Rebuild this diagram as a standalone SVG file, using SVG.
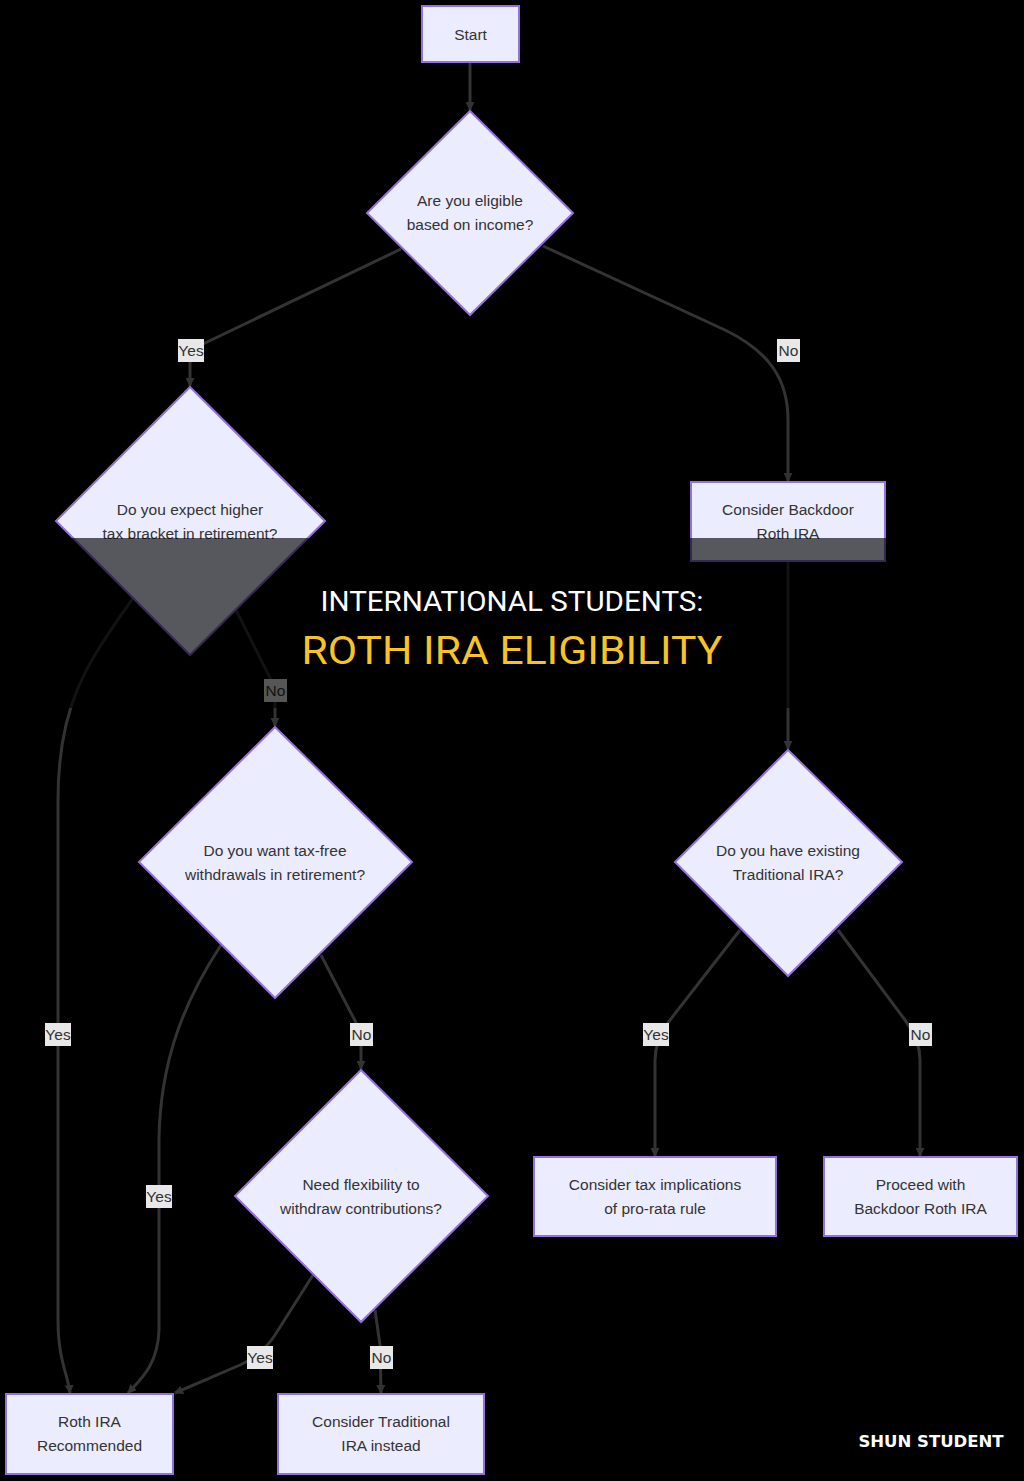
<svg xmlns="http://www.w3.org/2000/svg" width="1024" height="1481" viewBox="0 0 1024 1481">
<defs>
<marker id="arr" viewBox="0 0 10 10" refX="9" refY="5" markerWidth="9" markerHeight="9" markerUnits="userSpaceOnUse" orient="auto">
<path d="M0,0 L10,5 L0,10 z" fill="#333"/>
</marker>
<style>
.node rect,.node polygon{fill:#ECECFF;stroke:#9370DB;stroke-width:2}
.node text{font-family:"Liberation Sans",Arial,sans-serif;font-size:15.5px;fill:#333;text-anchor:middle;dominant-baseline:central}
.edge{fill:none;stroke:#333;stroke-width:3;marker-end:url(#arr)}
.lbl rect{fill:#e8e8e8}
.lbl text{font-family:"Liberation Sans",Arial,sans-serif;font-size:15.5px;fill:#333;text-anchor:middle;dominant-baseline:central}
</style>
</defs>
<rect width="1024" height="1481" fill="#000"/>
<g id="connectors">
<path class="edge" d="M470,62 L470,110"/>
<path class="edge" d="M401,249 L205,343 Q190,350 190,365 L190,386"/>
<path class="edge" d="M543,246 L725,330 C770,352 788,380 788,420 L788,481"/>
<path class="edge" d="M133,598 C90,660 58,700 58,800 L58,1320 C58,1360 68,1375 70,1393"/>
<path class="edge" d="M236,610 L265,668 Q275,685 275,700 L275,726"/>
<path class="edge" d="M788,561 L788,749"/>
<path class="edge" d="M221,945 C185,1000 160,1060 159,1140 L159,1330 C158,1365 140,1380 128,1393"/>
<path class="edge" d="M321,955 L352,1015 Q361,1030 361,1045 L361,1069"/>
<path class="edge" d="M740,930 L670,1020 Q655,1040 655,1060 L655,1156"/>
<path class="edge" d="M838,930 L905,1020 Q920,1040 920,1060 L920,1156"/>
<path class="edge" d="M313,1275 L275,1335 Q262,1355 240,1365 L175,1393"/>
<path class="edge" d="M375,1310 L380,1345 L381,1393"/>
</g>
<g id="edge-labels">
<g class="lbl"><rect x="178" y="339" width="26" height="23"/><text x="191" y="350.5">Yes</text></g>
<g class="lbl"><rect x="777" y="339" width="23" height="23"/><text x="788.5" y="350.5">No</text></g>
<g class="lbl"><rect x="264" y="679" width="23" height="23"/><text x="275.5" y="690.5">No</text></g>
<g class="lbl"><rect x="45" y="1023" width="26" height="23"/><text x="58" y="1034.5">Yes</text></g>
<g class="lbl"><rect x="350" y="1023" width="23" height="23"/><text x="361.5" y="1034.5">No</text></g>
<g class="lbl"><rect x="643" y="1023" width="26" height="23"/><text x="656" y="1034.5">Yes</text></g>
<g class="lbl"><rect x="909" y="1023" width="23" height="23"/><text x="920.5" y="1034.5">No</text></g>
<g class="lbl"><rect x="146" y="1185" width="26" height="23"/><text x="159" y="1196.5">Yes</text></g>
<g class="lbl"><rect x="247" y="1346" width="26" height="23"/><text x="260" y="1357.5">Yes</text></g>
<g class="lbl"><rect x="370" y="1346" width="23" height="23"/><text x="381.5" y="1357.5">No</text></g>
</g>
<g id="start" class="node"><rect x="422" y="6" width="97" height="56"/><text x="470.5" y="34">Start</text></g>
<g id="d1" class="node"><polygon points="470,111 573,213 470,315 367,213"/><text x="470" y="200">Are you eligible</text><text x="470" y="224">based on income?</text></g>
<g id="d2" class="node"><polygon points="190,387 325,521 190,655 56,521"/><text x="190" y="509">Do you expect higher</text><text x="190" y="533">tax bracket in retirement?</text></g>
<g id="backdoor" class="node"><rect x="691" y="482" width="194" height="79"/><text x="788" y="509">Consider Backdoor</text><text x="788" y="533">Roth IRA</text></g>
<g id="d3" class="node"><polygon points="275,727 412,862 275,998 139,862"/><text x="275" y="850">Do you want tax-free</text><text x="275" y="874">withdrawals in retirement?</text></g>
<g id="d4" class="node"><polygon points="788,750 902,862 788,976 675,862"/><text x="788" y="850">Do you have existing</text><text x="788" y="874">Traditional IRA?</text></g>
<g id="d5" class="node"><polygon points="361,1070 488,1196 361,1322 235,1196"/><text x="361" y="1184">Need flexibility to</text><text x="361" y="1208">withdraw contributions?</text></g>
<g id="prorata" class="node"><rect x="534" y="1157" width="242" height="79"/><text x="655" y="1184">Consider tax implications</text><text x="655" y="1208">of pro-rata rule</text></g>
<g id="proceed" class="node"><rect x="824" y="1157" width="193" height="79"/><text x="920.5" y="1184">Proceed with</text><text x="920.5" y="1208">Backdoor Roth IRA</text></g>
<g id="rothrec" class="node"><rect x="6" y="1394" width="167" height="80"/><text x="89.5" y="1421">Roth IRA</text><text x="89.5" y="1445">Recommended</text></g>
<g id="traditional" class="node"><rect x="278" y="1394" width="206" height="80"/><text x="381" y="1421">Consider Traditional</text><text x="381" y="1445">IRA instead</text></g>
<rect x="0" y="538" width="1024" height="170" fill="#000" fill-opacity="0.63"/>
<text x="512" y="611" font-family="Roboto,'Liberation Sans',sans-serif" font-size="28" fill="#ffffff" text-anchor="middle" textLength="383" lengthAdjust="spacingAndGlyphs">INTERNATIONAL STUDENTS:</text>
<text x="512" y="664" font-family="Roboto,'Liberation Sans',sans-serif" font-size="38" fill="#F7C325" text-anchor="middle" textLength="421" lengthAdjust="spacingAndGlyphs">ROTH IRA ELIGIBILITY</text>
<text x="931" y="1447" font-family="'DejaVu Sans',sans-serif" font-weight="bold" font-size="16.5" fill="#ffffff" text-anchor="middle">SHUN STUDENT</text>
</svg>
